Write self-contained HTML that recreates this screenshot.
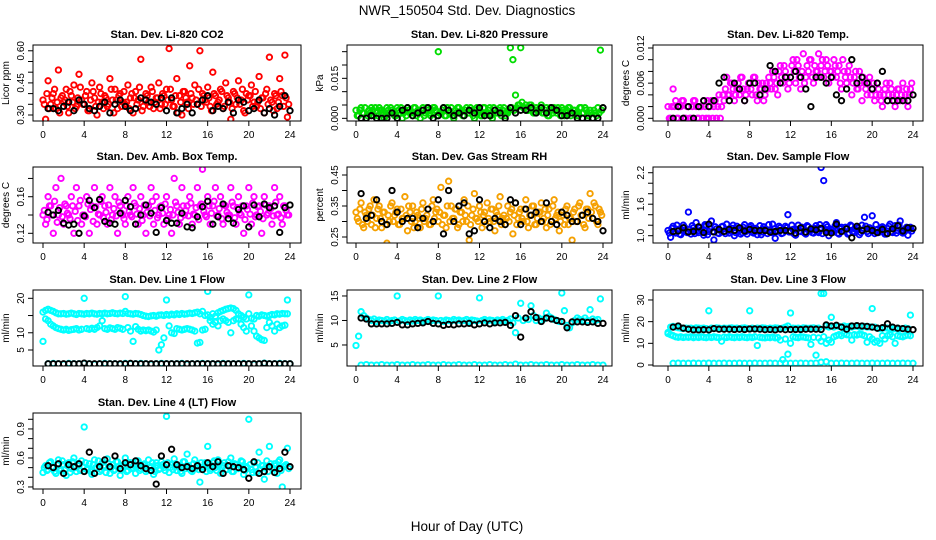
<!DOCTYPE html>
<html><head><meta charset="utf-8"><style>
html,body{margin:0;padding:0;background:#fff;}
svg{display:block;font-family:"Liberation Sans",sans-serif;}
</style></head><body>
<svg id="chart" width="936" height="540" viewBox="0 0 936 540">
<rect width="936" height="540" fill="#fff"/>
<text x="467" y="15" font-size="13.5" text-anchor="middle">NWR_150504  Std. Dev. Diagnostics</text>
<text x="467" y="531" font-size="13.5" text-anchor="middle">Hour of Day (UTC)</text>
</svg>
<script>
const hoursC = [0,.25,.5,.75,1,1.25,1.5,1.75,2,2.25,2.5,2.75,3,3.25,3.5,3.75,4,4.25,4.5,4.75,5,5.25,5.5,5.75,6,6.25,6.5,6.75,7,7.25,7.5,7.75,8,8.25,8.5,8.75,9,9.25,9.5,9.75,10,10.25,10.5,10.75,11,11.25,11.5,11.75,12,12.25,12.5,12.75,13,13.25,13.5,13.75,14,14.25,14.5,14.75,15,15.25,15.5,15.75,16,16.25,16.5,16.75,17,17.25,17.5,17.75,18,18.25,18.5,18.75,19,19.25,19.5,19.75,20,20.25,20.5,20.75,21,21.25,21.5,21.75,22,22.25,22.5,22.75,23,23.25,23.5,23.75];
const hoursC2 = [.125,.375,.625,.875,1.125,1.375,1.625,1.875,2.125,2.375,2.625,2.875,3.125,3.375,3.625,3.875,4.125,4.375,4.625,4.875,5.125,5.375,5.625,5.875,6.125,6.375,6.625,6.875,7.125,7.375,7.625,7.875,8.125,8.375,8.625,8.875,9.125,9.375,9.625,9.875,10.125,10.375,10.625,10.875,11.125,11.375,11.625,11.875,12.125,12.375,12.625,12.875,13.125,13.375,13.625,13.875,14.125,14.375,14.625,14.875,15.125,15.375,15.625,15.875,16.125,16.375,16.625,16.875,17.125,17.375,17.625,17.875,18.125,18.375,18.625,18.875,19.125,19.375,19.625,19.875,20.125,20.375,20.625,20.875,21.125,21.375,21.625,21.875,22.125,22.375,22.625,22.875,23.125,23.375,23.625,23.875];
const hoursK = [.5,1,1.5,2,2.5,3,3.5,4,4.5,5,5.5,6,6.5,7,7.5,8,8.5,9,9.5,10,10.5,11,11.5,12,12.5,13,13.5,14,14.5,15,15.5,16,16.5,17,17.5,18,18.5,19,19.5,20,20.5,21,21.5,22,22.5,23,23.5,24];
const xTicks = [0,4,8,12,16,20,24];

const co2Vals = [.37,.28,.46,.35,.40,.33,.51,.38,.36,.42,.31,.39,.44,.34,.49,.37,.35,.41,.32,.45,.38,.30,.43,.36,.39,.34,.47,.37,.42,.33,.40,.36,.35,.44,.38,.31,.41,.37,.56,.34,.40,.36,.43,.33,.38,.45,.35,.39,.42,.61,.37,.34,.47,.39,.30,.41,.36,.53,.38,.44,.35,.60,.40,.37,.43,.34,.50,.39,.36,.42,.33,.45,.38,.28,.41,.35,.46,.37,.32,.40,.39,.44,.36,.34,.48,.38,.31,.42,.57,.36,.40,.33,.47,.39,.58,.29];
const co2Vals2 = [.35,.40,.33,.38,.42,.36,.31,.39,.37,.34,.41,.36,.33,.38,.43,.35,.39,.32,.37,.41,.34,.36,.40,.33,.38,.35,.42,.31,.37,.39,.34,.41,.36,.33,.40,.38,.35,.43,.32,.37,.39,.34,.41,.36,.38,.33,.40,.35,.37,.42,.34,.39,.31,.36,.41,.38,.33,.40,.35,.37,.42,.34,.39,.36,.38,.32,.40,.35,.37,.41,.34,.39,.36,.33,.40,.38,.35,.42,.31,.37,.39,.34,.41,.36,.33,.38,.40,.35,.37,.32,.39,.36,.41,.34,.38,.35];
const co2Black = [.33,.33,.32,.34,.36,.32,.37,.35,.33,.32,.34,.36,.31,.35,.37,.34,.32,.33,.38,.37,.36,.35,.38,.32,.38,.31,.33,.35,.31,.35,.37,.39,.32,.34,.33,.36,.31,.37,.36,.32,.33,.37,.31,.33,.30,.34,.39,.32];
const presVals = [.003,.001,.004,.002,.000,.003,.004,.001,.002,.004,.003,.000,.004,.002,.003,.001,.004,.002,.000,.003,.004,.002,.001,.004,.003,.000,.004,.002,.003,.001,.004,.003,.025,.002,.004,.001,.003,.004,.000,.002,.004,.003,.001,.004,.002,.003,.000,.004,.003,.001,.004,.002,.004,.000,.003,.002,.004,.003,.001,.002,.0265,.022,.0087,.005,.0265,.004,.005,.003,.005,.002,.004,.003,.005,.002,.004,.001,.003,.004,.002,.003,.004,.001,.003,.004,.002,.003,.001,.004,.002,.004,.001,.003,.000,.002,.004,.0256];
const presVals2 = [.001,.003,.002,.004,.001,.002,.003,.004,.001,.003,.002,.001,.003,.004,.002,.001,.003,.004,.002,.001,.003,.002,.004,.001,.002,.003,.001,.004,.002,.003,.004,.001,.002,.003,.001,.004,.002,.001,.003,.004,.002,.001,.003,.002,.004,.001,.003,.002,.001,.004,.002,.003,.001,.004,.002,.003,.001,.004,.002,.003,.004,.003,.004,.005,.006,.004,.003,.005,.004,.002,.003,.004,.002,.003,.001,.004,.002,.003,.004,.001,.003,.002,.004,.001,.003,.002,.001,.004,.002,.003,.001,.002,.003,.001,.002,.003];
const presBlack = [.000,.000,.001,.000,.000,.000,.002,.000,.003,.004,.001,.002,.003,.004,.000,.001,.004,.003,.001,.002,.001,.003,.002,.004,.001,.001,.003,.002,.000,.004,.002,.003,.003,.004,.002,.004,.002,.004,.003,.001,.001,.002,.000,.000,.000,.000,.000,.004];
const tempVals = [.002,.000,.005,.003,.000,.002,.003,.000,.002,.000,.003,.002,.000,.002,.003,.000,.000,.003,.002,.000,.004,.002,.003,.007,.004,.006,.003,.005,.004,.007,.003,.005,.006,.004,.007,.003,.005,.006,.004,.005,.006,.008,.005,.004,.009,.006,.008,.005,.007,.010,.006,.009,.005,.011,.007,.008,.010,.006,.008,.011,.009,.007,.010,.006,.008,.010,.007,.009,.005,.008,.006,.009,.004,.007,.005,.008,.003,.006,.004,.007,.005,.003,.006,.004,.002,.005,.003,.006,.004,.002,.005,.003,.006,.004,.002,.005];
const tempVals2 = [.000,.002,.002,.000,.002,.003,.000,.002,.000,.002,.003,.000,.002,.000,.002,.003,.002,.000,.003,.002,.000,.004,.005,.004,.006,.005,.004,.006,.007,.005,.004,.006,.005,.007,.004,.006,.005,.003,.006,.007,.005,.007,.006,.008,.007,.009,.007,.006,.009,.008,.010,.007,.008,.006,.009,.010,.007,.009,.008,.007,.010,.008,.009,.008,.007,.009,.008,.006,.010,.007,.008,.007,.006,.008,.005,.006,.007,.005,.006,.004,.006,.004,.005,.003,.004,.006,.004,.005,.003,.004,.005,.004,.003,.005,.004,.006];
const tempBlack = [.000,.002,.000,.002,.000,.002,.003,.002,.003,.006,.007,.003,.006,.005,.003,.006,.006,.004,.005,.009,.008,.006,.007,.007,.008,.007,.005,.002,.007,.007,.006,.007,.004,.003,.005,.010,.006,.007,.006,.005,.006,.008,.003,.003,.003,.003,.003,.004];
const boxVals = [.14,.13,.16,.15,.12,.17,.14,.18,.13,.15,.14,.16,.12,.17,.15,.13,.14,.16,.12,.15,.17,.13,.14,.16,.15,.13,.17,.14,.16,.12,.15,.14,.13,.16,.14,.17,.15,.13,.16,.14,.12,.15,.17,.13,.16,.14,.15,.13,.16,.14,.12,.18,.15,.13,.17,.14,.15,.16,.13,.14,.17,.15,.19,.14,.16,.13,.15,.17,.14,.16,.13,.15,.14,.17,.15,.13,.16,.14,.12,.15,.17,.13,.16,.14,.15,.12,.16,.14,.15,.13,.17,.14,.16,.13,.15,.14];
const boxVals2 = [.145,.135,.150,.140,.155,.132,.148,.138,.152,.142,.136,.150,.144,.134,.156,.140,.138,.152,.146,.133,.149,.141,.155,.137,.143,.151,.135,.147,.139,.154,.142,.136,.150,.144,.138,.153,.141,.147,.134,.151,.143,.139,.155,.145,.137,.149,.142,.152,.136,.146,.140,.154,.143,.137,.150,.145,.139,.153,.141,.148,.135,.152,.144,.138,.150,.142,.155,.139,.147,.136,.151,.143,.140,.154,.137,.148,.142,.150,.135,.146,.141,.153,.138,.149,.144,.136,.151,.142,.147,.139,.154,.141,.137,.150,.145,.140];
const boxBlack = [.143,.140,.145,.131,.129,.130,.120,.139,.156,.148,.157,.133,.131,.130,.142,.156,.149,.130,.140,.151,.142,.121,.148,.134,.131,.131,.142,.127,.126,.138,.149,.155,.130,.138,.152,.136,.131,.146,.150,.127,.151,.138,.152,.148,.150,.121,.148,.151];
const rhVals = [.33,.30,.36,.28,.32,.34,.29,.37,.31,.35,.28,.33,.23,.30,.36,.32,.34,.29,.31,.38,.27,.33,.35,.30,.32,.28,.36,.31,.34,.29,.37,.33,.30,.41,.32,.28,.43,.35,.31,.34,.29,.33,.37,.30,.24,.32,.39,.31,.35,.28,.33,.36,.30,.34,.27,.32,.38,.31,.29,.35,.33,.26,.36,.31,.34,.30,.37,.28,.32,.35,.29,.33,.36,.31,.28,.34,.30,.37,.32,.27,.33,.29,.35,.31,.24,.34,.30,.36,.32,.28,.34,.39,.31,.35,.29,.33];
const rhVals2 = [.31,.34,.29,.33,.30,.35,.32,.28,.34,.31,.33,.29,.32,.35,.30,.33,.29,.34,.31,.32,.35,.30,.28,.33,.31,.34,.30,.32,.29,.35,.31,.34,.33,.29,.32,.35,.30,.31,.34,.28,.33,.30,.32,.35,.29,.34,.31,.30,.33,.32,.29,.31,.34,.30,.33,.35,.29,.32,.31,.30,.34,.32,.29,.33,.31,.34,.30,.32,.35,.29,.31,.33,.30,.34,.32,.29,.35,.31,.33,.30,.32,.34,.29,.31,.33,.30,.35,.32,.29,.34,.31,.33,.36,.30,.34,.32];
const rhBlack = [.39,.31,.32,.37,.30,.29,.40,.33,.30,.31,.31,.28,.31,.34,.30,.37,.26,.40,.30,.35,.36,.26,.27,.37,.30,.28,.31,.30,.29,.37,.36,.29,.34,.32,.33,.30,.36,.30,.29,.33,.32,.30,.30,.32,.33,.31,.30,.27];
const flowVals = [1.10,0.97,1.18,1.05,1.12,1.02,1.20,1.08,1.45,1.03,1.15,1.25,1.06,1.11,1.01,1.19,1.08,1.28,0.92,1.13,1.04,1.17,1.09,1.22,1.05,1.14,1.00,1.18,1.10,1.06,1.21,1.03,1.16,1.08,1.12,1.02,1.19,1.07,1.13,1.04,1.11,1.22,0.95,1.09,1.15,1.05,1.18,1.40,1.07,1.12,1.01,1.20,1.08,1.14,1.03,1.17,1.10,1.05,1.19,1.06,2.30,2.05,1.21,1.00,1.12,1.07,1.25,1.03,1.16,1.09,1.13,1.05,1.18,1.06,1.11,1.02,1.20,1.35,1.08,1.15,1.38,1.04,1.12,1.09,1.17,1.03,1.14,1.22,1.06,1.19,1.10,1.28,1.05,1.13,1.01,1.16];
const flowVals2 = [1.05,1.14,1.08,1.20,1.03,1.11,1.16,1.06,1.12,1.19,1.04,1.09,1.15,1.07,1.21,1.02,1.13,1.08,1.17,1.05,1.10,1.18,1.04,1.12,1.09,1.20,1.06,1.13,1.03,1.16,1.08,1.11,1.19,1.05,1.14,1.09,1.02,1.17,1.10,1.21,1.06,1.13,1.08,1.18,1.04,1.11,1.15,1.07,1.20,1.03,1.12,1.09,1.16,1.05,1.19,1.10,1.06,1.14,1.08,1.21,1.04,1.12,1.17,1.07,1.10,1.19,1.05,1.13,1.09,1.16,1.03,1.20,1.08,1.12,1.15,1.06,1.10,1.18,1.04,1.13,1.09,1.21,1.06,1.15,1.11,1.03,1.18,1.08,1.13,1.05,1.20,1.10,1.07,1.16,1.12,1.09];
const flowBlack = [1.08,1.09,1.15,1.07,1.08,1.17,1.06,1.22,1.07,1.12,1.08,1.12,1.10,1.15,1.09,1.12,1.10,1.10,1.10,1.07,1.08,1.10,1.10,1.09,1.05,1.15,1.07,1.13,1.11,1.14,1.06,1.05,1.22,1.08,1.13,0.96,1.18,1.10,1.13,1.10,1.06,1.12,1.04,1.13,1.19,1.09,1.15,1.14];
const l1Upper = [16.0,16.5,16.8,16.5,16.2,15.8,15.5,15.5,15.6,15.4,15.5,15.7,15.5,15.3,15.6,15.5,15.4,15.6,15.5,15.7,15.5,15.4,15.6,15.5,15.7,15.5,15.6,15.8,15.6,15.5,15.7,15.6,16.2,15.6,15.5,15.4,15.6,15.5,15.3,15.0,14.8,14.7,14.9,15.0,14.8,15.1,15.2,15.0,15.3,15.1,15.4,15.2,15.5,15.3,15.6,15.4,15.5,15.7,15.6,15.8,16.0,15.5,16.2,15.0,15.2,14.5,15.5,14.8,15.8,16.2,16.5,16.8,17.0,17.2,17.0,16.5,15.5,15.0,14.5,14.0,15.5,14.2,14.0,15.0,14.8,15.2,15.0,14.8,15.0,15.3,15.2,15.5,15.4,15.6,15.5,15.5];
const l1Lower = [7.5,14.0,13.5,12.5,12.0,11.5,11.2,11.0,10.8,11.0,10.7,10.9,11.0,11.2,10.8,11.0,20.0,11.2,11.0,11.3,11.0,11.5,12.0,13.5,11.2,11.0,11.4,11.2,11.0,11.5,11.3,11.0,20.5,11.5,10.5,7.5,11.8,11.0,10.5,10.8,10.6,10.8,10.5,10.2,10.8,5.0,6.5,8.5,19.5,12.0,10.0,9.8,11.2,11.0,10.8,11.0,11.2,11.0,10.8,10.5,7.0,7.2,10.8,11.0,22.0,13.5,12.5,13.0,12.0,13.5,14.0,13.5,13.0,10.0,13.5,14.0,14.0,12.5,11.5,10.5,21.0,12.0,10.5,9.0,8.5,8.0,7.8,11.5,13.0,12.0,10.5,12.5,11.5,12.0,12.2,19.5];
const l1Base = [1.0,1.1,1.0,0.9,1.1,1.0,1.0,1.1,1.0,0.9,1.0,1.1,1.0,1.0,0.9,1.1,1.0,1.0,1.1,1.0,0.9,1.0,1.1,1.0,1.0,1.0,1.1,0.9,1.0,1.0,1.1,1.0,1.0,0.9,1.1,1.0,1.0,1.0,1.1,1.0,0.9,1.0,1.2,1.0,1.0,1.1,1.0,1.0];
const l1Black = [1.0,1.0,1.0,1.0,1.0,1.0,1.0,1.2,1.0,1.0,1.0,1.0,1.0,1.0,1.0,1.0,1.1,1.0,1.0,1.0,1.0,1.0,1.0,1.0,1.0,1.0,1.0,1.0,1.0,1.0,1.0,1.0,1.0,1.0,1.0,1.0,1.0,1.0,1.0,1.0,1.0,1.0,1.1,1.0,1.0,1.0,1.0,1.0];
const l2Vals = [4.9,6.8,11.8,11.0,10.5,10.2,10.0,10.3,9.8,10.1,10.0,9.9,10.2,9.8,10.0,10.1,15.0,9.9,10.2,10.0,9.8,10.1,9.9,10.2,10.0,10.1,9.8,10.0,10.2,9.9,10.1,10.0,15.0,10.0,9.8,10.1,10.0,9.9,10.2,10.0,10.1,9.9,10.0,10.2,9.8,10.1,10.0,9.9,14.6,10.0,10.2,9.9,10.1,10.0,9.8,10.1,10.0,10.2,9.9,10.0,10.3,9.5,7.5,10.5,13.5,10.0,10.5,10.2,13.0,11.0,10.0,10.5,10.0,10.3,11.5,10.8,10.5,10.2,10.0,9.8,15.6,12.0,9.0,8.5,9.5,10.0,10.5,10.2,10.0,10.5,10.0,12.2,10.3,10.0,10.2,14.4];
const l2Base = [0.9,1.0,0.9,0.9,1.0,0.9,0.9,1.0,0.9,0.9,1.0,0.9,0.9,1.0,0.9,0.9,1.0,0.9,0.9,1.0,0.9,0.9,1.0,0.9,0.9,1.0,0.9,0.9,1.0,0.9,1.1,0.9,0.9,1.0,0.9,0.9,1.0,0.9,0.9,1.0,0.9,0.9,1.0,0.9,0.9,1.0,0.9,0.9];
const l2Black = [10.5,10.3,9.3,9.3,9.3,9.3,9.4,9.6,9.1,9.1,9.3,9.4,9.5,9.8,9.4,9.3,9.0,9.2,9.1,9.3,9.3,9.4,9.1,9.3,9.5,9.3,9.5,9.5,9.6,9.0,11.0,6.6,10.5,11.8,10.6,9.8,10.5,10.3,10.0,9.8,8.5,9.7,9.7,9.7,9.6,9.7,9.4,9.4];
const l3Upper = [15.0,17.5,17.8,17.5,17.2,17.0,16.8,17.0,16.9,17.0,16.8,17.1,17.0,16.9,17.0,16.8,25.0,17.0,16.9,17.1,17.0,16.8,17.0,16.9,17.0,17.1,16.9,17.0,16.8,17.0,17.1,16.9,25.0,17.0,16.8,17.0,16.9,17.1,17.0,16.8,17.0,16.9,17.1,17.0,16.8,17.0,17.5,18.0,24.0,17.0,16.9,17.0,16.8,17.1,17.0,16.9,17.0,17.1,16.9,17.0,33.0,33.0,18.0,17.5,22.0,17.5,18.0,17.8,17.5,18.0,17.6,17.8,17.5,17.8,18.0,17.6,17.5,17.8,17.5,17.6,26.0,17.5,17.0,16.8,17.0,17.2,17.0,16.8,16.5,16.8,17.0,16.6,16.8,17.0,16.8,23.0];
const l3Lower = [14.5,14.0,13.5,13.0,12.8,13.0,12.7,12.9,12.8,13.0,12.6,12.9,12.7,13.0,12.8,12.6,12.9,12.7,13.0,12.8,12.6,11.0,12.9,12.7,13.0,12.8,12.6,12.9,12.7,13.0,12.8,12.6,12.9,12.7,13.0,9.0,12.8,12.6,12.5,12.8,12.6,12.9,12.5,12.7,11.5,2.5,12.0,5.0,10.0,13.0,12.8,12.6,13.0,12.9,12.7,12.5,9.5,12.8,4.5,12.5,11.0,13.0,10.0,11.5,10.5,13.0,13.5,14.0,13.5,14.5,14.0,13.8,11.5,14.0,13.8,14.2,14.0,13.5,10.5,13.0,12.0,10.5,11.0,10.0,13.5,12.0,13.5,14.0,13.0,10.0,13.5,13.2,13.0,13.5,13.8,13.5];
const l3Base = [0.8,0.9,0.8,0.8,0.9,0.8,0.8,0.9,0.8,0.8,0.9,0.8,0.8,0.9,0.8,0.8,0.9,0.8,0.8,0.9,0.8,0.8,0.9,0.8,0.8,0.9,0.8,0.8,0.9,1.3,1.5,0.8,0.8,0.9,0.8,0.8,0.9,0.8,0.8,0.9,0.8,0.8,0.9,0.8,0.8,0.9,0.8,0.8];
const l3Black = [17.5,18.0,17.0,16.5,16.2,16.2,16.3,16.2,16.8,16.5,16.5,16.5,16.4,16.5,16.4,16.6,16.6,16.5,16.3,16.4,16.2,16.5,16.3,16.4,16.4,16.4,16.5,16.5,16.5,16.4,18.5,18.0,18.3,17.5,16.5,18.0,18.2,18.0,17.8,17.5,17.0,17.2,19.0,17.5,17.0,16.8,16.5,16.3];
const l4Vals = [.45,.52,.48,.56,.50,.44,.58,.47,.53,.42,.55,.49,.60,.46,.52,.57,.92,.48,.54,.43,.58,.50,.46,.55,.51,.59,.44,.53,.48,.56,.42,.52,.60,.47,.55,.50,.44,.57,.49,.53,.46,.58,.51,.43,.55,.48,.56,.50,1.03,.45,.53,.59,.47,.52,.44,.56,.64,.50,.46,.58,.53,.35,.49,.55,.72,.47,.55,.50,.58,.44,.52,.48,.56,.60,.46,.53,.49,.57,.43,.51,1.00,.48,.55,.45,.66,.52,.38,.57,.72,.50,.54,.44,.58,.30,.52,.70];
const l4Vals2 = [.50,.47,.55,.51,.46,.53,.49,.57,.48,.52,.45,.56,.50,.54,.47,.51,.55,.49,.46,.53,.50,.57,.48,.52,.45,.54,.50,.47,.56,.51,.48,.53,.46,.55,.49,.52,.57,.47,.51,.54,.48,.50,.55,.46,.52,.49,.53,.47,.55,.50,.48,.54,.51,.46,.56,.49,.52,.47,.54,.50,.48,.55,.51,.46,.53,.49,.57,.47,.52,.50,.55,.48,.51,.46,.54,.49,.52,.56,.47,.50,.53,.45,.51,.55,.48,.52,.50,.46,.54,.49,.52,.56,.47,.51,.53,.49];
const l4Black = [.52,.50,.54,.44,.53,.51,.54,.46,.66,.44,.51,.58,.51,.62,.49,.55,.53,.57,.52,.49,.47,.33,.62,.53,.69,.53,.50,.51,.49,.52,.48,.55,.51,.56,.44,.52,.51,.50,.48,.39,.56,.44,.46,.51,.45,.49,.66,.51];

const co2Ticks=[.30,.35,.40,.45,.50,.55,.60], co2Labels=["0.30","","","0.45","","","0.60"];
const presTicks=[0,.005,.01,.015,.02,.025], presLabels=["0.000","","","0.015","",""];
const tempTicks=[0,.002,.004,.006,.008,.010,.012], tempLabels=["0.000","","","0.006","","","0.012"];
const boxTicks=[.12,.14,.16,.18], boxLabels=["0.12","","0.16",""];
const rhTicks=[.25,.30,.35,.40,.45], rhLabels=["0.25","","0.35","","0.45"];
const flowTicks=[1.0,1.2,1.4,1.6,1.8,2.0,2.2], flowLabels=["1.0","","","1.6","","","2.2"];
const l1Ticks=[5,10,15,20], l1Labels=["5","10","","20"];
const l2Ticks=[5,10,15], l2Labels=["5","10","15"];
const l3Ticks=[0,10,20,30], l3Labels=["0","10","20","30"];
const l4Ticks=[.3,.4,.5,.6,.7,.8,.9,1.0], l4Labels=["0.3","","","0.6","","","0.9",""];

const NS="http://www.w3.org/2000/svg";
const svg=document.getElementById('chart');
function mk(tag,attrs,parent){const e=document.createElementNS(NS,tag);for(const k in attrs)e.setAttribute(k,attrs[k]);(parent||svg).appendChild(e);return e;}
const colBox=[[33,301,43,290],[347,612,356,603],[653,923,668,913]];
const rowTop=[45,167,290,413];
const BH=76;
const panels=[
 {t:"Stan. Dev. Li-820 CO2",yl:"Licor ppm",c:0,r:0,d:[.272,.627],tk:co2Ticks,tl:co2Labels,s:[[hoursC2,co2Vals2,"#ff0000"],[hoursC,co2Vals,"#ff0000"],[hoursK,co2Black,"#000"]]},
 {t:"Stan. Dev. Li-820 Pressure",yl:"kPa",c:1,r:0,d:[-.001,.0275],tk:presTicks,tl:presLabels,s:[[hoursC2,presVals2,"#00dd00"],[hoursC,presVals,"#00dd00"],[hoursK,presBlack,"#000"]]},
 {t:"Stan. Dev. Li-820 Temp.",yl:"degrees C",c:2,r:0,d:[-.00046,.01251],tk:tempTicks,tl:tempLabels,s:[[hoursC2,tempVals2,"#ff00ff"],[hoursC,tempVals,"#ff00ff"],[hoursK,tempBlack,"#000"]]},
 {t:"Stan. Dev. Amb. Box Temp.",yl:"degrees C",c:0,r:1,d:[.1094,.1925],tk:boxTicks,tl:boxLabels,s:[[hoursC2,boxVals2,"#ff00ff"],[hoursC,boxVals,"#ff00ff"],[hoursK,boxBlack,"#000"]]},
 {t:"Stan. Dev. Gas Stream RH",yl:"percent",c:1,r:1,d:[.2306,.4758],tk:rhTicks,tl:rhLabels,s:[[hoursC2,rhVals2,"#f5a000"],[hoursC,rhVals,"#f5a000"],[hoursK,rhBlack,"#000"]]},
 {t:"Stan. Dev. Sample Flow",yl:"ml/min",c:2,r:1,d:[.861,2.309],tk:flowTicks,tl:flowLabels,s:[[hoursC2,flowVals2,"#0000ff"],[hoursC,flowVals,"#0000ff"],[hoursK,flowBlack,"#000"]]},
 {t:"Stan. Dev. Line 1 Flow",yl:"ml/min",c:0,r:2,d:[.36,22.41],tk:l1Ticks,tl:l1Labels,s:[[hoursC,l1Upper,"#00ffff"],[hoursC,l1Lower,"#00ffff"],[hoursK,l1Base,"#00ffff"],[hoursK,l1Black,"#000"]]},
 {t:"Stan. Dev. Line 2 Flow",yl:"ml/min",c:1,r:2,d:[.71,16.22],tk:l2Ticks,tl:l2Labels,s:[[hoursC,l2Vals,"#00ffff"],[hoursK,l2Base,"#00ffff"],[hoursK,l2Black,"#000"]]},
 {t:"Stan. Dev. Line 3 Flow",yl:"ml/min",c:2,r:2,d:[-.46,34.6],tk:l3Ticks,tl:l3Labels,s:[[hoursC,l3Upper,"#00ffff"],[hoursC,l3Lower,"#00ffff"],[hoursK,l3Base,"#00ffff"],[hoursK,l3Black,"#000"]]},
 {t:"Stan. Dev. Line 4 (LT) Flow",yl:"ml/min",c:0,r:3,d:[.279,1.065],tk:l4Ticks,tl:l4Labels,s:[[hoursC2,l4Vals2,"#00ffff"],[hoursC,l4Vals,"#00ffff"],[hoursK,l4Black,"#000"]]}
];
panels.forEach((p,pi)=>{
 const [bl,br,x0,x24]=colBox[p.c]; const top=rowTop[p.r], bot=top+BH;
 const xs=h=>x0+(x24-x0)*h/24;
 const ys=v=>bot-(v-p.d[0])/(p.d[1]-p.d[0])*BH;
 const g=mk('g',{});
 
 
 const cx=(bl+br)/2;
 const tt=mk('text',{x:cx,y:top-7,'font-size':11,'font-weight':'bold','text-anchor':'middle'},g);tt.textContent=p.t;
 
 
 const clip=mk('clipPath',{id:'cp'+pi},g);mk('rect',{x:bl,y:top,width:br-bl,height:BH},clip);
 const pts=mk('g',{'clip-path':'url(#cp'+pi+')',fill:'none'},g);
 p.s.forEach(([hs,vals,col])=>{
  vals.forEach((v,i)=>{
   if(hs[i]===undefined)return;
   const c=mk('circle',{cx:xs(hs[i]).toFixed(1),cy:ys(v).toFixed(1),r:2.7,stroke:col,'stroke-width':1.9},pts);
   
   
  });
 });
 const box=mk('rect',{x:bl,y:top,width:br-bl,height:BH,fill:'none',stroke:'#000','stroke-width':1},g);
 
 
 xTicks.forEach(h=>{
  const x=xs(h);
  mk('line',{x1:x,x2:x,y1:bot,y2:bot+5,stroke:'#000'},g);
  const t=mk('text',{x:x,y:bot+17,'font-size':10,'text-anchor':'middle'},g);t.textContent=h;
  
  
 });
 p.tk.forEach((v,i)=>{
  const y=ys(v);
  mk('line',{x1:bl-5,x2:bl,y1:y,y2:y,stroke:'#000'},g);
  if(p.tl[i]){const t=mk('text',{x:0,y:0,'font-size':10,'text-anchor':'middle',transform:`translate(${bl-9},${y}) rotate(-90)`},g);t.textContent=p.tl[i];
  
  }
 });
 const yt=mk('text',{x:0,y:0,'font-size':10,'text-anchor':'middle',transform:`translate(${bl-24},${top+BH/2}) rotate(-90)`},g);yt.textContent=p.yl;
 
 
});
</script>
</body></html>
